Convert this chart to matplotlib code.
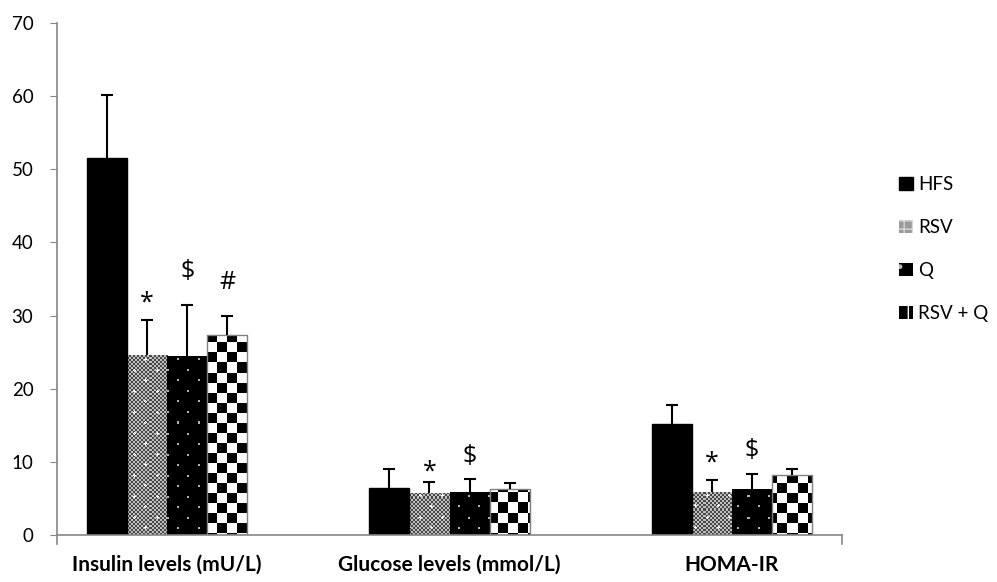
import numpy as np
import matplotlib
matplotlib.use("Agg")
import matplotlib.pyplot as plt
from matplotlib.patches import Patch

plt.rcParams['font.family'] = ['Lato', 'DejaVu Sans']

categories = ['Insulin levels (mU/L)', 'Glucose levels (mmol/L)', 'HOMA-IR']
groups = ['HFS', 'RSV', 'Q', 'RSV + Q']

# means and upper SD for each group, per measurement
means = {
    'HFS':     [51.6, 6.4, 15.2],
    'RSV':     [24.6, 5.8, 5.9],
    'Q':       [24.5, 5.9, 6.3],
    'RSV + Q': [27.4, 6.3, 8.2],
}
sd = {
    'HFS':     [8.6, 2.6, 2.6],
    'RSV':     [4.8, 1.5, 1.6],
    'Q':       [7.0, 1.8, 2.0],
    'RSV + Q': [2.6, 0.8, 0.8],
}

# significance marks: (measurement, group, symbol, lift above error bar in points)
marks = [
    (0, 'RSV', '*', 12), (0, 'Q', '$', 24), (0, 'RSV + Q', '#', 24),
    (1, 'RSV', '*', 7), (1, 'Q', '$', 16),
    (2, 'RSV', '*', 12), (2, 'Q', '$', 17),
]

W, H = 997, 582
fig = plt.figure(figsize=(W / 100, H / 100), dpi=100)
ax_l, ax_b, ax_r, ax_t = 57, 47, 842, 23
ax = fig.add_axes([ax_l / W, ax_b / H, (ax_r - ax_l) / W, (H - ax_b - ax_t) / H])

xlim = (-0.39, 2.39)
ylim = (0, 70)

# pixel textures for the patterned bars
aw, ah = ax_r - ax_l, H - ax_b - ax_t
py, px = np.mgrid[0:ah, 0:aw]


def texture(kind):
    img = np.ones((ah, aw, 3))
    if kind == 'checker':
        blk = ((px // 10) + (py // 10)) % 2 == 0
        img[blk] = 0.0
    elif kind == 'dots':
        img[:] = 0.0
        on = (((px % 20) < 2) & ((py % 21) < 2)) | \
             ((((px + 10) % 20) < 2) & (((py + 10) % 21) < 2))
        img[on] = 0.7
    elif kind == 'grey':
        base = np.where(((px // 2) + (py // 2)) % 2 == 0, 0.28, 0.75)
        img[:] = base[..., None]
        sp = (((px % 22) == 0) & ((py % 21) == 0)) | \
             ((((px + 11) % 22) == 0) & (((py + 10) % 21) == 0))
        plus = sp.copy()
        plus[:, 1:] |= sp[:, :-1]
        plus[:, :-1] |= sp[:, 1:]
        plus[1:, :] |= sp[:-1, :]
        plus[:-1, :] |= sp[1:, :]
        img[plus] = 1.0
    return img


styles = {
    'HFS':     dict(tex=None, edge='black'),
    'RSV':     dict(tex='grey', edge='none'),
    'Q':       dict(tex='dots', edge='none'),
    'RSV + Q': dict(tex='checker', edge='#808080'),
}

x = np.arange(len(categories))
width = 0.142
offsets = (np.arange(len(groups)) - 1.5) * width

for i, g in enumerate(groups):
    pos = x + offsets[i]
    st = styles[g]
    bars = ax.bar(pos, means[g], width, color='black' if st['tex'] is None else 'none',
                  edgecolor=st['edge'], linewidth=1.0, zorder=2)
    if st['tex'] is not None:
        tex = texture(st['tex'])
        for b in bars:
            im = ax.imshow(tex, extent=(xlim[0], xlim[1], ylim[0], ylim[1]),
                           origin='upper', interpolation='nearest', aspect='auto', zorder=1.5)
            im.set_clip_path(b)
    eb = ax.errorbar(pos, means[g], yerr=[np.zeros(len(x)), sd[g]], fmt='none',
                     ecolor='black', elinewidth=1.5, capsize=4, capthick=1.5, zorder=3)
    eb[1][0].set_visible(False)

for ci, g, sym, lift in marks:
    gi = groups.index(g)
    top = means[g][ci] + sd[g][ci]
    ax.annotate(sym, (x[ci] + offsets[gi], top), xytext=(0, lift), textcoords='offset points',
                ha='center', va='center', fontsize=18, family=['Open Sans', 'DejaVu Sans'],
                color='black')

ax.set_xlim(*xlim)
ax.set_ylim(*ylim)
ax.set_yticks(np.arange(0, 71, 10))
ax.tick_params(axis='y', direction='out', length=5, color='#868686', labelsize=13.5, pad=12)
ax.set_xticks(x)
ax.set_xticklabels(categories, fontweight='bold', fontsize=15)
ax.tick_params(axis='x', length=0, pad=14.5)
for s in ['top', 'right']:
    ax.spines[s].set_visible(False)
for s in ['left', 'bottom']:
    ax.spines[s].set_color('#868686')
    ax.spines[s].set_linewidth(1.2)
ax.spines['left'].set_bounds(-1.2, 70)
ax.plot([xlim[1], xlim[1]], [0, -1.2], color='#868686', lw=1.2, clip_on=False)

handles = [
    Patch(facecolor='black', edgecolor='black'),
    Patch(facecolor='#9a9a9a', edgecolor='#d8d8d8', hatch='++', linewidth=0),
    Patch(facecolor='black', edgecolor='#bbbbbb', hatch='.', linewidth=0),
    Patch(facecolor='black', edgecolor='white', hatch='|', linewidth=0),
]
fig.legend(handles, groups, loc='upper left', bbox_to_anchor=(890 / W, 1 - 167 / H),
           frameon=False, fontsize=13.5, handlelength=0.7, handleheight=0.7,
           handletextpad=0.3, labelspacing=1.38, borderpad=0)

fig.savefig('out.png', dpi=100)
